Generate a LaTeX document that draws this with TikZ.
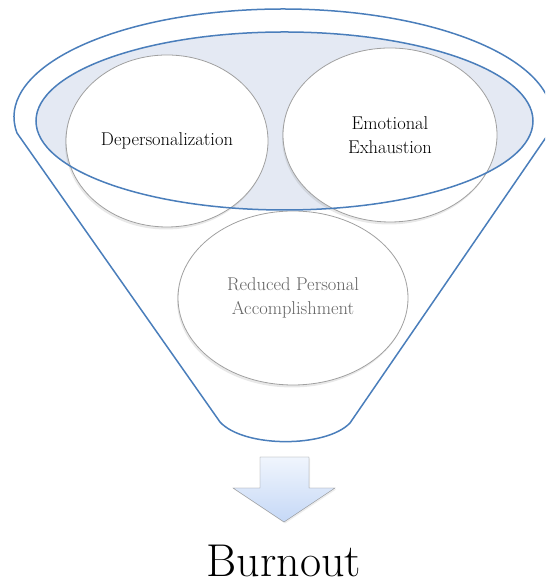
\documentclass[tikz,border=0pt]{standalone}
\usetikzlibrary{shapes.geometric,shadows}
\definecolor{funnelblue}{RGB}{74,126,187}
\definecolor{rimfill}{RGB}{228,233,243}
\definecolor{bubbleline}{RGB}{160,160,160}
\definecolor{arrowline}{RGB}{135,135,135}
\definecolor{fadedtext}{RGB}{100,100,100}
\definecolor{arrowtop}{RGB}{240,245,253}
\definecolor{arrowbot}{RGB}{197,216,246}
\tikzset{
    bubble/.style={ellipse, draw=bubbleline, line width=0.8pt, fill=white,
        inner sep=0pt, align=center, font=\fontsize{18.5}{24}\selectfont,
        drop shadow={opacity=0.18, shadow xshift=-1pt, shadow yshift=-2.5pt}},
    rim/.style={draw=funnelblue, line width=1.5pt}
}
\begin{document}
\begin{tikzpicture}[x=1pt, y=1pt]
    \useasboundingbox (0,0) rectangle (545,585);
    \clip (0,0) rectangle (545,585);

    % the outer rim and the sides of the funnel
    \draw[rim] (283,468) ++(188.5:269 and 108)
        arc[start angle=188.5, end angle=-8.5, x radius=269, y radius=108]
        -- (350,162) .. controls (326,137) and (244,137) .. (220,163) -- cycle;

    % the inner rim, filled first
    \fill[rimfill] (284.5,464) ellipse [x radius=248.5, y radius=89];

    % the three bubbles
    \node[bubble, minimum width=202pt, minimum height=172pt] (depers) at (167,444) {Depersonalization};
    \node[bubble, minimum width=214pt, minimum height=174pt] (exhaust) at (390,450) {Emotional\\Exhaustion};
    \node[bubble, minimum width=230pt, minimum height=174pt, text=fadedtext] (reduced) at (293,287) {Reduced Personal\\Accomplishment};

    % the line of the inner rim, over the bubbles
    \draw[rim] (284.5,464) ellipse [x radius=248.5, y radius=89];

    % the block arrow down
    \draw[arrowline, top color=arrowtop, bottom color=arrowbot,
        drop shadow={opacity=0.15, shadow xshift=1pt, shadow yshift=-1.5pt}]
        (260,128) -- (309,128) -- (309,97) -- (335,97) -- (284,63) -- (233,97) -- (260,97) -- cycle;

    % the result below the arrow
    \node[anchor=base, inner sep=0pt, font=\fontsize{46}{50}\selectfont] (burnout) at (284,9) {Burnout};
\end{tikzpicture}
\end{document}
